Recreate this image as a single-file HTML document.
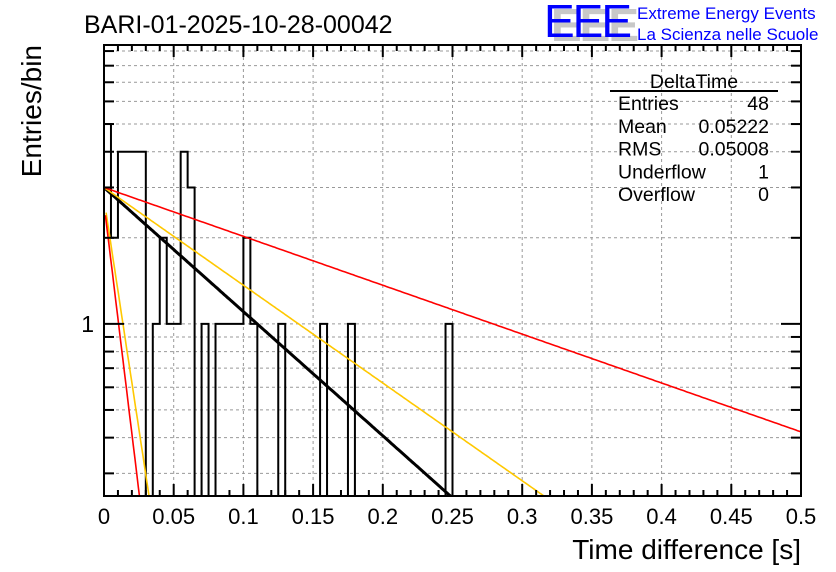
<!DOCTYPE html>
<html><head><meta charset="utf-8"><style>
html,body{margin:0;padding:0;background:#fff;}
svg{display:block;font-family:"Liberation Sans",sans-serif;}
</style></head><body>
<svg id="c" width="836" height="572" viewBox="0 0 836 572"></svg>
<script>
const binCounts=[5,2,4,4,4,4,0,1,2,1,1,4,3,0,1,0,1,1,1,1,2,1,0,0,0,1,0,0,0,0,0,1,0,0,0,1,0,0,0,0,0,0,0,0,0,0,0,0,0,1];
const binWidth=0.005;
const xTicks=[0,0.05,0.1,0.15,0.2,0.25,0.3,0.35,0.4,0.45,0.5];
const xTickLabels=["0","0.05","0.1","0.15","0.2","0.25","0.3","0.35","0.4","0.45","0.5"];
const yMinorTicks=[0.3,0.4,0.5,0.6,0.7,0.8,0.9,2,3,4,5,6,7,8,9];
const fitAmps=[3,3,3,2.45,2.4];
const fitTaus=[0.1,0.127,0.254,0.0135,0.0108];
const fitStarts=[0,0,0,0.0015,0.001];
const fitColors=["#000","#ffc800","#ff0000","#ffc800","#ff0000"];
const statLabels=["Entries","Mean","RMS","Underflow","Overflow"];
const statValues=["48","0.05222","0.05008","1","0"];

const NS="http://www.w3.org/2000/svg";
const svg=document.getElementById('c');
const L=104,R=801,T=45,B=496,YMIN=0.25,YMAX=9.45;
const X=v=>L+(v/0.5)*(R-L);
const Y=v=>B-(Math.log10(v)-Math.log10(YMIN))/(Math.log10(YMAX)-Math.log10(YMIN))*(B-T);
function el(t,a,p){const e=document.createElementNS(NS,t);for(const k in a)e.setAttribute(k,a[k]);(p||svg).appendChild(e);return e;}

const grid=el('g',{stroke:'#999','stroke-dasharray':'3,3','stroke-width':1});


xTicks.slice(1,-1).forEach(v=>el('line',{x1:X(v),x2:X(v),y1:T,y2:B},grid));
yMinorTicks.concat([1]).forEach(v=>el('line',{x1:L,x2:R,y1:Y(v),y2:Y(v)},grid));

let d=`M${X(0)},${B}`;
binCounts.forEach((c,i)=>{const y=c>0?Y(c):B;d+=` L${X(i*binWidth)},${y} L${X((i+1)*binWidth)},${y}`;});
d+=` L${X(binCounts.length*binWidth)},${B}`;
const h=el('path',{d:d,fill:'none',stroke:'#000','stroke-width':2});



const clip=el('clipPath',{id:'cp'});el('rect',{x:L,y:T,width:R-L,height:B-T},clip);
fitAmps.forEach((A,k)=>{
  let pts=[];
  for(let i=0;i<=400;i++){const x=fitStarts[k]+(0.5-fitStarts[k])*i/400;const v=A*Math.exp(-(x-fitStarts[k])/fitTaus[k]);if(v<YMIN*0.9)break;pts.push(X(x).toFixed(1)+','+Y(v).toFixed(1));}
  const p=el('polyline',{points:pts.join(' '),fill:'none',stroke:fitColors[k],'stroke-width':k==0?3:1.6,'clip-path':'url(#cp)'});
  
  
});

const fr=el('rect',{x:L,y:T,width:R-L,height:B-T,fill:'none',stroke:'#000','stroke-width':2});



const tk=el('g',{stroke:'#000','stroke-width':2});


for(let i=0;i<=50;i++){const v=i*0.01;const len=(i%5==0)?12:6;
  el('line',{x1:X(v),x2:X(v),y1:B,y2:B-len},tk);el('line',{x1:X(v),x2:X(v),y1:T,y2:T+len},tk);}
yMinorTicks.forEach(v=>{el('line',{x1:L,x2:L+10,y1:Y(v),y2:Y(v)},tk);el('line',{x1:R,x2:R-10,y1:Y(v),y2:Y(v)},tk);});
el('line',{x1:L,x2:L+20,y1:Y(1),y2:Y(1)},tk);el('line',{x1:R,x2:R-20,y1:Y(1),y2:Y(1)},tk);

xTicks.forEach((v,i)=>{const t=el('text',{x:X(v),y:524,'text-anchor':'middle','font-size':22});t.textContent=xTickLabels[i];
  
  });
const y1=el('text',{x:94,y:Y(1)+8,'text-anchor':'end','font-size':23});y1.textContent='1';


const xt=el('text',{x:801,y:559,'text-anchor':'end','font-size':28});xt.textContent='Time difference [s]';


const yt=el('text',{x:0,y:0,'text-anchor':'end','font-size':28,transform:'translate(41,45) rotate(-90)'});yt.textContent='Entries/bin';


const tt=el('text',{x:84,y:33,'font-size':25});tt.textContent='BARI-01-2025-10-28-00042';



const lg=el('g',{});


const sh=el('text',{x:551,y:41,'font-size':46,fill:'#c8c8c8','font-weight':'bold','letter-spacing':'-2'},lg);sh.textContent='EEE';
const le=el('text',{x:544,y:37,'font-size':46,fill:'#0000ff','letter-spacing':'-2'},lg);le.textContent='EEE';
const l1=el('text',{x:637,y:19,'font-size':17,fill:'#0000ff'},lg);l1.textContent='Extreme Energy Events';
const l2=el('text',{x:637,y:40,'font-size':17,fill:'#0000ff'},lg);l2.textContent='La Scienza nelle Scuole';

const st=el('g',{'font-size':19.5});


const sT=el('text',{x:694,y:88,'text-anchor':'middle'},st);sT.textContent='DeltaTime';
el('line',{x1:610,x2:778,y1:91,y2:91,stroke:'#000','stroke-width':2},st);
statLabels.forEach((s,i)=>{const y=110+i*22.8;
  const a=el('text',{x:618,y:y},st);a.textContent=s;
  const b=el('text',{x:769,y:y,'text-anchor':'end'},st);b.textContent=statValues[i];});
</script>
</body></html>
